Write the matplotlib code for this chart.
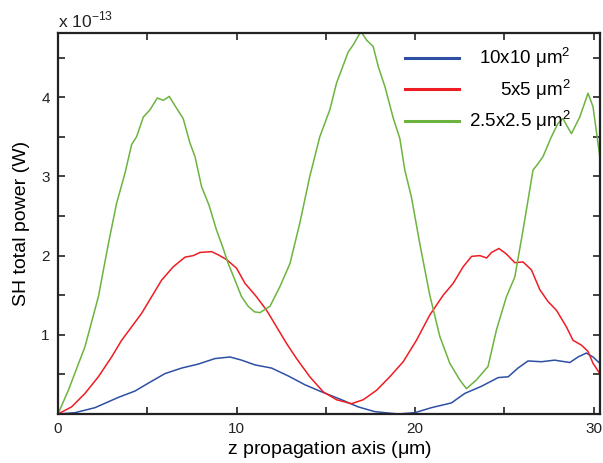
import matplotlib
matplotlib.use("Agg")
import matplotlib.pyplot as plt
from matplotlib.ticker import MultipleLocator, FuncFormatter

plt.rcParams['font.family'] = ['Liberation Sans', 'DejaVu Sans']

# SH power in units of 1e-13 W vs z (um)
z_green = [0, 0.58, 1.51, 2.26, 2.82, 3.28, 3.75, 4.12, 4.40, 4.78, 5.15, 5.56, 5.90, 6.23,
           6.64, 7.01, 7.39, 7.67, 8.04, 8.45, 8.88, 9.25, 9.53, 9.91, 10.28, 10.65, 11.0,
           11.31, 11.87, 12.43, 12.99, 13.54, 14.10, 14.66, 15.22, 15.60, 16.25, 16.53, 16.96,
           17.28, 17.65, 17.93, 18.31, 18.78, 19.14, 19.42, 19.79, 20.26, 20.82, 21.38, 21.94,
           22.50, 22.87, 23.43, 24.08, 24.55, 25.11, 25.58, 26.04, 26.60, 26.88, 27.16, 27.63,
           28.0, 28.28, 28.47, 28.75, 29.22, 29.68, 29.96, 30.34]
p_green = [0, 0.30, 0.85, 1.48, 2.15, 2.66, 3.04, 3.40, 3.50, 3.75, 3.84, 3.99, 3.96, 4.01,
           3.86, 3.73, 3.42, 3.25, 2.87, 2.64, 2.32, 2.09, 1.90, 1.69, 1.48, 1.36, 1.29,
           1.28, 1.36, 1.61, 1.90, 2.41, 3.00, 3.50, 3.84, 4.18, 4.57, 4.66, 4.83,
           4.72, 4.64, 4.39, 4.13, 3.73, 3.48, 3.08, 2.74, 2.15, 1.50, 0.98, 0.64,
           0.43, 0.32, 0.43, 0.60, 1.06, 1.48, 1.73, 2.32, 3.08, 3.16, 3.25, 3.50,
           3.67, 3.73, 3.65, 3.54, 3.75, 4.05, 3.88, 3.25]

z_red = [0, 0.76, 1.51, 2.26, 3.0, 3.56, 4.12, 4.68, 5.24, 5.80, 6.46, 7.11, 7.58, 7.95, 8.60,
         8.97, 9.44, 10.0, 10.47, 11.08, 11.68, 12.24, 12.80, 13.36, 14.10, 14.85, 15.60, 16.43,
         17.09, 17.84, 18.58, 19.33, 20.07, 20.82, 21.57, 22.13, 22.69, 23.16, 23.62, 24.0,
         24.28, 24.69, 25.11, 25.58, 26.04, 26.51, 26.98, 27.44, 27.91, 28.47, 28.84, 29.31,
         29.68, 29.96, 30.34]
p_red = [0, 0.09, 0.26, 0.47, 0.72, 0.93, 1.10, 1.27, 1.48, 1.69, 1.86, 1.98, 2.0, 2.04, 2.05,
         2.01, 1.95, 1.84, 1.65, 1.49, 1.31, 1.10, 0.89, 0.70, 0.47, 0.28, 0.18, 0.13,
         0.18, 0.30, 0.47, 0.66, 0.93, 1.25, 1.50, 1.65, 1.86, 1.99, 2.0, 1.97,
         2.04, 2.09, 2.02, 1.91, 1.92, 1.82, 1.57, 1.42, 1.31, 1.10, 0.93, 0.87,
         0.79, 0.64, 0.51]

z_blue = [0, 0.95, 2.07, 3.38, 4.31, 5.06, 5.99, 6.92, 7.85, 8.79, 9.63, 10.28, 11.03, 11.96,
          12.90, 13.82, 14.76, 15.88, 16.81, 17.74, 19.05, 19.99, 20.91, 22.03, 22.78, 23.71,
          24.65, 25.21, 25.76, 26.32, 27.07, 27.81, 28.66, 29.12, 29.59, 29.96, 30.34]
p_blue = [0, 0.017, 0.08, 0.21, 0.29, 0.39, 0.51, 0.58, 0.63, 0.70, 0.72, 0.68, 0.62, 0.58,
          0.48, 0.37, 0.28, 0.18, 0.09, 0.03, 0.0, 0.017, 0.08, 0.14, 0.26, 0.35,
          0.46, 0.47, 0.58, 0.67, 0.66, 0.68, 0.65, 0.72, 0.77, 0.72, 0.64]

labels = [r'10x10 $\mathregular{\mu m^2}$', r'5x5 $\mathregular{\mu m^2}$',
          r'2.5x2.5 $\mathregular{\mu m^2}$']
colors = ['#2E4FA3', '#EE1D23', '#6CB43F']

fig = plt.figure(figsize=(6.03, 4.63), dpi=100)
ax = fig.add_axes([0.0962, 0.1058, 0.8988, 0.8229])

series = [(z_blue, p_blue), (z_red, p_red), (z_green, p_green)]
for (z, p), c, lab in zip(series, colors, labels):
    ax.plot(z, p, color=c, lw=1.1, label=lab)

ax.set_xlim(0, 30.35)
ax.set_ylim(0, 4.81)

ax.xaxis.set_major_locator(MultipleLocator(5))
ax.yaxis.set_major_locator(MultipleLocator(0.5))
ax.xaxis.set_major_formatter(FuncFormatter(lambda v, pos: f"{v:.0f}" if round(v) % 10 == 0 else ""))
ax.yaxis.set_major_formatter(FuncFormatter(
    lambda v, pos: f"{v:.0f}" if abs(v - round(v)) < 1e-6 and round(v) > 0 else ""))
ax.tick_params(direction='in', top=True, right=True, length=5, width=1.2,
               labelsize=11, pad=6, colors='#222222', labelcolor='#222222')
for s in ax.spines.values():
    s.set_linewidth(1.6)
    s.set_color('#222222')

ax.set_xlabel(r'z propagation axis ($\mathregular{\mu}$m)', fontsize=14, labelpad=2)
ax.set_ylabel('SH total power (W)', fontsize=14, labelpad=8)
ax.text(0.0, 1.008, r'x 10$^{\mathregular{-13}}$', transform=ax.transAxes,
        fontsize=12.5, ha='left', va='bottom', color='#222222')

leg = ax.legend(loc='upper right', bbox_to_anchor=(0.97, 1.0), frameon=False,
                fontsize=13.5, handlelength=2.9, handletextpad=0.5, labelspacing=0.4,
                borderaxespad=0.3)
for h in leg.legend_handles:
    h.set_linewidth(2.2)

# right-align legend labels (TextArea positions are in pixels)
fig.canvas.draw()
renderer = fig.canvas.get_renderer()
widths = [t.get_window_extent(renderer).width for t in leg.get_texts()]
shift = max(widths)
for t, w in zip(leg.get_texts(), widths):
    t.set_position((shift - w, 0))

fig.savefig('out.png', dpi=100)
